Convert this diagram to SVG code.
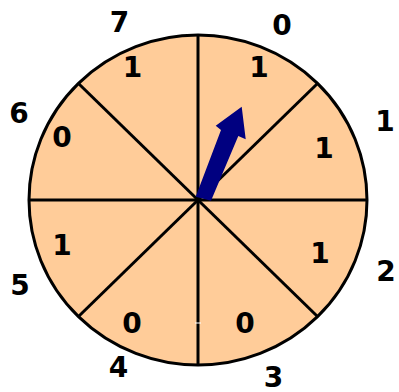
<svg xmlns="http://www.w3.org/2000/svg" width="399" height="392" viewBox="0 0 399 392">
<style>
.t{font-family:"DejaVu Sans","Liberation Sans",sans-serif;font-weight:bold;font-size:28px;fill:#000;text-anchor:middle}
.ln{stroke:#000;stroke-width:3;fill:none}
</style>
<rect width="399" height="392" fill="#fff"/>
<g id="wheel">
<ellipse cx="198" cy="200" rx="169" ry="165" fill="#ffcc99" stroke="#000" stroke-width="3"/>
</g>
<g id="connectors">
<line class="ln" x1="198" y1="35" x2="198" y2="365"/>
<line class="ln" x1="29" y1="200" x2="367" y2="200"/>
<line class="ln" x1="79" y1="84" x2="317" y2="316"/>
<line class="ln" x1="317" y1="84" x2="79" y2="316"/>
<rect x="195" y="322.5" width="6" height="1" fill="#fff"/>
</g>
<g id="pointer">
<polygon points="195.7,196.7 221,130 215.7,125.7 241.7,106.7 245.7,139.3 238.3,136 211,200.7" fill="#000080"/>
</g>
<g id="outer-labels">
<text class="t" x="119.5" y="32">7</text>
<text class="t" x="282" y="35">0</text>
<text class="t" x="385" y="131">1</text>
<text class="t" x="386" y="281">2</text>
<text class="t" x="273.5" y="387">3</text>
<text class="t" x="118.5" y="377">4</text>
<text class="t" x="20" y="295">5</text>
<text class="t" x="19" y="123">6</text>
</g>
<g id="inner-labels">
<text class="t" x="132.5" y="77">1</text>
<text class="t" x="259" y="77">1</text>
<text class="t" x="324" y="158">1</text>
<text class="t" x="320" y="263">1</text>
<text class="t" x="245" y="333">0</text>
<text class="t" x="132" y="333">0</text>
<text class="t" x="62" y="255">1</text>
<text class="t" x="62" y="147">0</text>
</g>
</svg>
